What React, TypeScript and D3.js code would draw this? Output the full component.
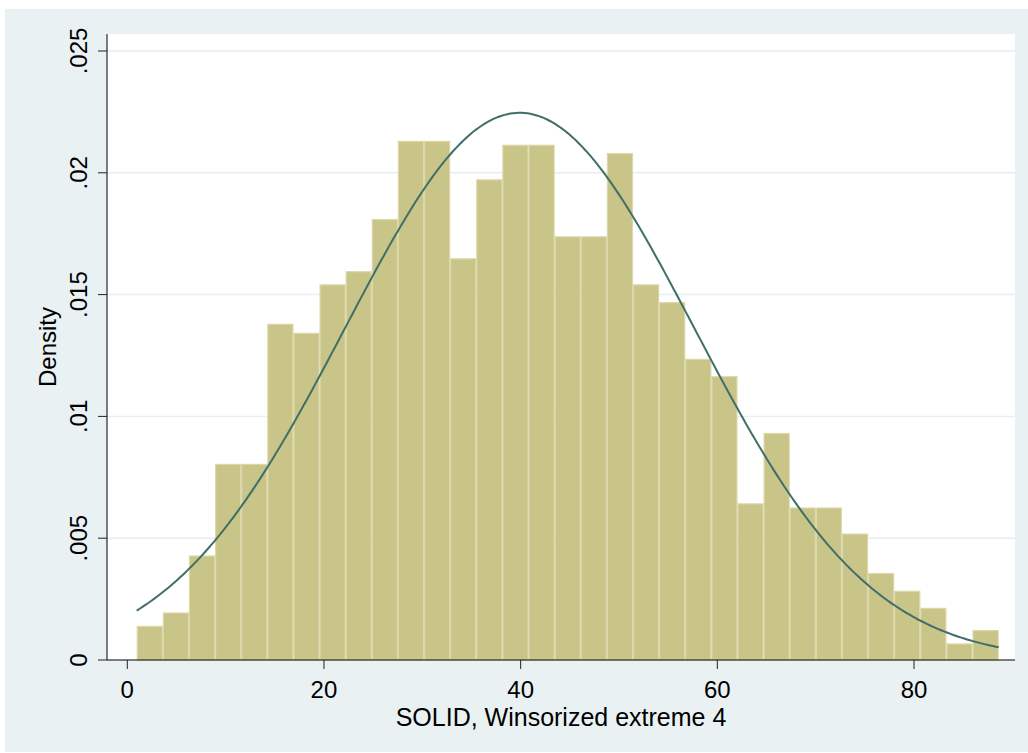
import React from "react";
import * as d3 from "d3";

// ---- data ----
const binStart = 0.96; // left edge of first bin
const binWidth = 2.656; // width of each bin
const densities = [
  0.0014, 0.00195, 0.00429, 0.00805, 0.00805, 0.0138, 0.01343, 0.01542, 0.01596,
  0.0181, 0.02131, 0.02131, 0.01649, 0.01973, 0.02115, 0.02115, 0.01739, 0.01739,
  0.02081, 0.01542, 0.01469, 0.01236, 0.01165, 0.00643, 0.00932, 0.00626, 0.00626,
  0.00519, 0.00357, 0.00284, 0.00214, 0.00068, 0.00123,
];
const normalMean = 39.9;
const normalSd = 17.76;
const xTicks = [0, 20, 40, 60, 80];
const yTicks = [0, 0.005, 0.01, 0.015, 0.02, 0.025];
const yTickLabels = ["0", ".005", ".01", ".015", ".02", ".025"];
const xTitle = "SOLID, Winsorized extreme 4";
const yTitle = "Density";

const W = 1028;
const H = 753;
const plot = { left: 107, right: 1015, top: 34, bottom: 660 };

export default function App() {
  const x = d3
    .scaleLinear()
    .domain([0, 80])
    .range([127.3, 914]);
  const y = d3.scaleLinear().domain([0, 0.025]).range([660, 51]);

  const nBins = densities.length;
  const lastEdge = binStart + binWidth * nBins;
  const curvePts: [number, number][] = d3.range(0, 301).map((i) => {
    const v = binStart + ((lastEdge - binStart) * i) / 300;
    const z = (v - normalMean) / normalSd;
    return [v, Math.exp(-0.5 * z * z) / (normalSd * Math.sqrt(2 * Math.PI))];
  });
  const line = d3
    .line<[number, number]>()
    .x((d) => x(d[0]))
    .y((d) => y(d[1]))
    .curve(d3.curveLinear);

  const font = "'Liberation Sans', Arial, Helvetica, sans-serif";

  return (
    <svg
      width={W}
      height={H}
      style={{ position: "absolute", left: 0, top: 0, display: "block" }}
    >
      <rect x={0} y={0} width={W} height={H} fill="#ffffff" />
      <rect x={5} y={9} width={W - 5} height={743} fill="#EAF1F3" />
      <rect
        x={plot.left}
        y={plot.top}
        width={plot.right - plot.left}
        height={plot.bottom - plot.top}
        fill="#ffffff"
      />
      {/* grid */}
      {yTicks
        .filter((t) => t > 0)
        .map((t) => (
          <line
            key={"g" + t}
            x1={plot.left}
            x2={plot.right}
            y1={y(t)}
            y2={y(t)}
            stroke="#E6EEF1"
            strokeWidth={1.5}
          />
        ))}
      {/* bars */}
      {densities.map((d, i) => {
        const x0 = x(binStart + i * binWidth);
        const x1 = x(binStart + (i + 1) * binWidth);
        return (
          <rect
            key={"b" + i}
            x={x0 + 0.5}
            y={y(d) + 0.5}
            width={x1 - x0 - 1}
            height={y(0) - y(d) - 0.5}
            fill="#C9C487"
            stroke="#DCD8A9"
            strokeWidth={1.2}
          />
        );
      })}
      {/* normal curve */}
      <path
        d={line(curvePts) || ""}
        fill="none"
        stroke="#3F6F68"
        strokeWidth={2}
      />
      {/* axes */}
      <line x1={plot.left} x2={plot.left} y1={plot.top} y2={plot.bottom} stroke="#000" strokeWidth={1} />
      <line x1={plot.left} x2={plot.right} y1={plot.bottom} y2={plot.bottom} stroke="#000" strokeWidth={1} />
      {xTicks.map((t) => (
        <g key={"xt" + t}>
          <line x1={x(t)} x2={x(t)} y1={plot.bottom} y2={plot.bottom + 9} stroke="#222" strokeWidth={1} />
          <text
            x={x(t)}
            y={698}
            textAnchor="middle"
            fontFamily={font}
            fontSize={24}
            fill="#000"
          >
            {t}
          </text>
        </g>
      ))}
      {yTicks.map((t, i) => (
        <g key={"yt" + t}>
          <line x1={plot.left - 9} x2={plot.left} y1={y(t)} y2={y(t)} stroke="#222" strokeWidth={1} />
          <text
            transform={`translate(87,${y(t)}) rotate(-90)`}
            textAnchor="middle"
            fontFamily={font}
            fontSize={24}
            fill="#000"
          >
            {yTickLabels[i]}
          </text>
        </g>
      ))}
      <text
        x={(plot.left + plot.right) / 2}
        y={726}
        textAnchor="middle"
        fontFamily={font}
        fontSize={25}
        fill="#000"
      >
        {xTitle}
      </text>
      <text
        transform={`translate(56,${(plot.top + plot.bottom) / 2}) rotate(-90)`}
        textAnchor="middle"
        fontFamily={font}
        fontSize={24}
        fill="#000"
      >
        {yTitle}
      </text>
    </svg>
  );
}
